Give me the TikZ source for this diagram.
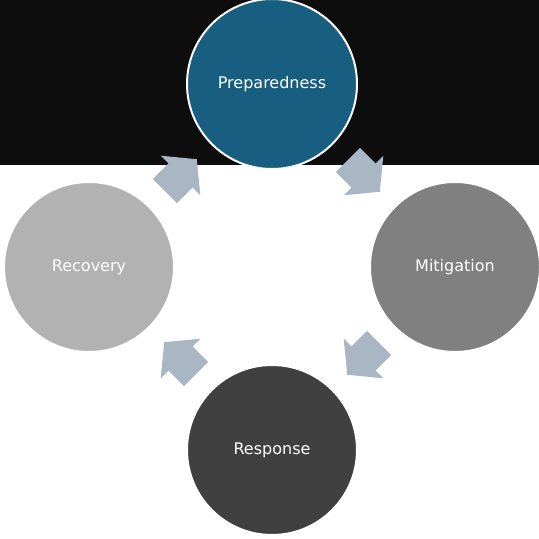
\documentclass[tikz,border=0pt]{standalone}
\usepackage{fontspec}
\setmainfont{DejaVu Sans}
\usetikzlibrary{calc}
\definecolor{bandblack}{RGB}{13,13,13}
\definecolor{prepblue}{RGB}{23,94,128}
\definecolor{mitgray}{RGB}{128,128,128}
\definecolor{respgray}{RGB}{64,64,64}
\definecolor{recgray}{RGB}{178,178,178}
\definecolor{arrowgray}{RGB}{169,182,195}
\tikzset{
  phase/.style={circle, draw=white, line width=1.5pt, minimum size=127.5pt, inner sep=0pt,
    text=white, font=\fontsize{12}{14}\selectfont},
  pics/cyclearrow/.style={
    code={
        \fill[arrowgray] (-22,-17) -- (0,-17) -- (0,-28) -- (23,0) -- (0,28) -- (0,17) -- (-22,17) -- cycle;
    }
  }
}
\begin{document}
\begin{tikzpicture}[x=0.75pt,y=0.75pt]
            \useasboundingbox (0,0) rectangle (539,539);
            \fill[bandblack] (0,374) rectangle (539,539);

            \node[phase, fill=prepblue] (prep) at (272,455) {Preparedness};
            \node[phase, fill=mitgray] (mit) at (455,272) {Mitigation};
            \node[phase, fill=respgray] (resp) at (272,89) {Response};
            \node[phase, fill=recgray] (rec) at (89,272) {Recovery};

            \pic[rotate=45] at ($(rec)!0.5!(prep)$) {cyclearrow};
            \pic[rotate=-45] at ($(prep)!0.5!(mit)$) {cyclearrow};
            \pic[rotate=-135] at ($(mit)!0.5!(resp)$) {cyclearrow};
            \pic[rotate=135] at ($(resp)!0.5!(rec)$) {cyclearrow};
\end{tikzpicture}
\end{document}
